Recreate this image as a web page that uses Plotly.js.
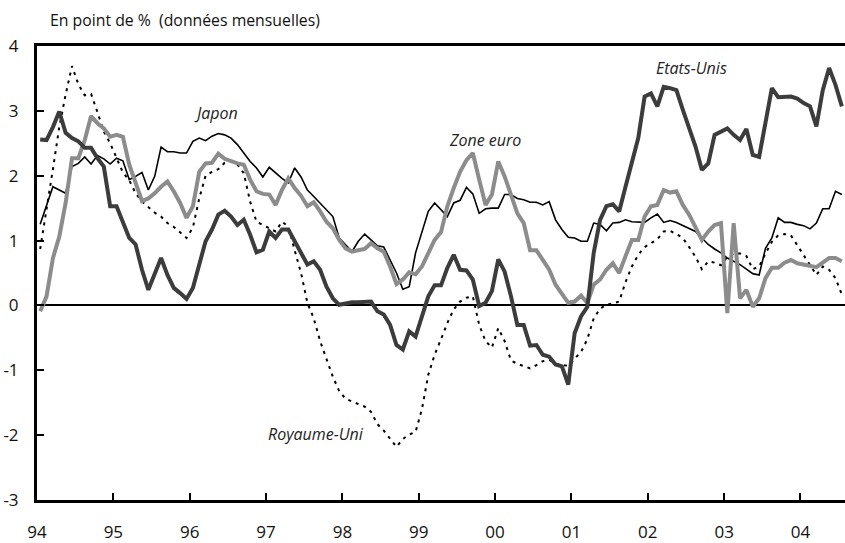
<!DOCTYPE html>
<html>
<head>
<meta charset="utf-8">
<script src="https://cdn.plot.ly/plotly-3.0.1.min.js"></script>
<style>html,body{margin:0;padding:0;background:#fff;}#chart{width:845px;height:543px;}</style>
</head>
<body>
<div id="chart"></div>
<script>
// Monthly data, January 1994 to July 2004
const startYear = 1994;
const tickYears = [1994,1995,1996,1997,1998,1999,2000,2001,2002,2003,2004];
const tickLabels = ["94","95","96","97","98","99","00","01","02","03","04"];
const yTickVals = [-3,-2,-1,0,1,2,3,4];
const yTickLabels = ["-3","-2","-1","0","1","2","3","4"];

const etatsUnis = [2.56,2.55,2.75,2.99,2.66,2.58,2.53,2.43,2.43,2.27,2.14,1.53,1.53,1.29,1.04,0.94,0.55,0.24,0.47,0.73,
  0.47,0.27,0.19,0.10,0.27,0.65,0.99,1.17,1.40,1.46,1.37,1.24,1.32,1.09,0.82,0.86,1.14,1.04,1.17,1.17,
  0.99,0.81,0.63,0.68,0.55,0.29,0.11,0.01,0.03,0.05,0.05,0.06,0.06,-0.09,-0.14,-0.30,-0.61,-0.68,-0.40,-0.48,
  -0.17,0.14,0.31,0.31,0.58,0.78,0.55,0.54,0.40,-0.01,0.04,0.22,0.71,0.52,0.14,-0.30,-0.30,-0.62,-0.61,-0.76,
  -0.79,-0.91,-0.94,-1.22,-0.43,-0.17,-0.02,0.81,1.32,1.53,1.56,1.45,1.83,2.22,2.58,3.22,3.27,3.07,3.37,3.35,
  3.32,3.02,2.75,2.45,2.09,2.19,2.63,2.68,2.73,2.63,2.55,2.72,2.32,2.29,2.86,3.35,3.21,3.22,3.22,3.19,
  3.12,3.07,2.76,3.32,3.66,3.40,3.07];

const zoneEuro = [-0.09,0.14,0.73,1.06,1.58,2.27,2.27,2.55,2.92,2.81,2.73,2.60,2.63,2.60,2.17,1.89,1.61,1.65,1.73,1.83,
  1.91,1.76,1.58,1.35,1.53,2.06,2.19,2.20,2.34,2.26,2.22,2.19,2.17,1.94,1.76,1.72,1.71,1.55,1.78,1.96,
  1.81,1.69,1.53,1.59,1.45,1.29,1.19,1.01,0.88,0.83,0.85,0.87,0.96,0.88,0.83,0.60,0.33,0.40,0.51,0.48,
  0.60,0.81,1.01,1.13,1.53,1.81,2.06,2.24,2.35,1.94,1.55,1.71,2.22,1.99,1.71,1.42,1.27,0.85,0.85,0.70,
  0.55,0.32,0.18,0.04,0.06,0.15,0.04,0.32,0.40,0.55,0.65,0.50,0.76,1.01,1.01,1.37,1.53,1.55,1.78,1.74,
  1.76,1.55,1.40,1.22,1.01,1.14,1.24,1.27,-0.12,1.27,0.11,0.24,-0.02,0.11,0.42,0.58,0.58,0.66,0.70,0.65,
  0.63,0.62,0.59,0.66,0.73,0.73,0.68];

const japon = [1.25,1.55,1.83,1.78,1.73,2.14,2.19,2.29,2.18,2.31,2.26,2.18,2.27,2.23,1.94,1.99,2.05,1.78,1.99,2.44,
  2.37,2.37,2.35,2.35,2.53,2.58,2.54,2.61,2.65,2.63,2.58,2.48,2.35,2.22,2.12,1.98,2.13,2.04,1.96,1.89,
  2.12,1.98,1.78,1.68,1.58,1.47,1.37,1.04,0.94,0.83,0.99,1.10,1.01,0.92,0.90,0.70,0.50,0.25,0.29,0.81,
  1.14,1.45,1.58,1.47,1.37,1.58,1.62,1.82,1.72,1.42,1.49,1.50,1.50,1.71,1.71,1.65,1.63,1.59,1.59,1.55,
  1.60,1.32,1.17,1.05,1.04,0.99,0.99,1.27,1.25,1.15,1.27,1.28,1.32,1.29,1.29,1.28,1.35,1.41,1.28,1.31,
  1.28,1.23,1.18,1.14,1.04,0.94,0.87,0.81,0.73,0.68,0.63,0.56,0.49,0.47,0.88,1.04,1.35,1.28,1.28,1.25,
  1.23,1.18,1.27,1.49,1.49,1.76,1.71];

const royaumeUni = [0.87,1.45,2.10,2.75,3.25,3.69,3.41,3.24,3.26,2.98,2.68,2.50,2.28,2.05,1.93,1.73,1.60,1.51,1.43,1.37,
  1.27,1.21,1.12,1.04,1.20,1.65,2.00,2.06,2.10,2.20,2.22,2.17,2.04,1.60,1.29,1.24,1.19,1.14,1.29,1.22,
  0.85,0.50,0.04,-0.20,-0.55,-0.82,-1.10,-1.32,-1.44,-1.48,-1.52,-1.56,-1.64,-1.83,-1.93,-2.05,-2.18,-2.06,-1.99,-1.95,
  -1.60,-1.07,-0.76,-0.52,-0.27,-0.06,0.06,0.12,0.14,-0.30,-0.55,-0.65,-0.35,-0.55,-0.85,-0.90,-0.93,-0.97,-0.92,-0.86,
  -0.84,-0.90,-0.92,-0.93,-0.82,-0.72,-0.52,-0.20,-0.05,0.01,0.03,0.06,0.36,0.60,0.78,0.90,0.96,1.02,1.14,1.15,
  1.10,1.04,0.90,0.75,0.56,0.68,0.66,0.62,0.75,0.80,0.80,0.76,0.56,0.60,0.80,0.98,1.08,1.10,1.08,0.93,
  0.77,0.64,0.47,0.60,0.55,0.42,0.17];

function months(arr){ return arr.map((_, i) => startYear + (i + 0.5) / 12); }

const traces = [
  {x: months(japon), y: japon, name: "Japon", mode: "lines",
   line: {color: "#000000", width: 1.6}},
  {x: months(royaumeUni), y: royaumeUni, name: "Royaume-Uni", mode: "lines",
   line: {color: "#000000", width: 2, dash: "3px,5px"}},
  {x: months(zoneEuro), y: zoneEuro, name: "Zone euro", mode: "lines",
   line: {color: "#8c8c8c", width: 4}},
  {x: months(etatsUnis), y: etatsUnis, name: "Etats-Unis", mode: "lines",
   line: {color: "#3c3c3c", width: 4}}
];

const FONT = "'Open Sans', Lato, sans-serif";
const lblFont = {family: FONT, size: 16, color: "#222"};

const layout = {
  width: 845, height: 543,
  margin: {l: 36.5, r: 0, t: 46, b: 43, pad: 0},
  paper_bgcolor: "#fff", plot_bgcolor: "#fff",
  showlegend: false,
  font: {family: FONT, color: "#111"},
  xaxis: {
    range: [1994, 2004.583], showgrid: false, zeroline: false,
    showline: true, linecolor: "#000", linewidth: 3, mirror: true,
    ticks: "inside", ticklen: 7, tickwidth: 2, tickcolor: "#000",
    tickvals: tickYears, ticktext: tickLabels,
    tickfont: {family: FONT, size: 17, color: "#111"},
    ticklabelstandoff: 15
  },
  yaxis: {
    range: [-3, 4], showgrid: false,
    zeroline: true, zerolinecolor: "#000", zerolinewidth: 2,
    showline: true, linecolor: "#000", linewidth: 3,
    ticks: "inside", ticklen: 7, tickwidth: 2, tickcolor: "#000",
    tickvals: yTickVals, ticktext: yTickLabels,
    tickfont: {family: FONT, size: 17, color: "#111"},
    ticklabelstandoff: 12
  },
  annotations: [
    {xref: "paper", yref: "paper", x: 0.0142, y: 1.057, xanchor: "left", yanchor: "middle",
     text: "En point de %  (données mensuelles)", showarrow: false,
     font: {family: FONT, size: 15.8, color: "#111"}},
    {x: 1996.35, y: 2.97, text: "<i>Japon</i>", showarrow: false, font: lblFont},
    {x: 1999.87, y: 2.55, text: "<i>Zone euro</i>", showarrow: false, font: lblFont},
    {x: 2002.57, y: 3.66, text: "<i>Etats-Unis</i>", showarrow: false, font: lblFont},
    {x: 1997.66, y: -1.99, text: "<i>Royaume-Uni</i>", showarrow: false, font: lblFont}
  ]
};

Plotly.newPlot("chart", traces, layout, {displayModeBar: false, staticPlot: true});
</script>
</body>
</html>
